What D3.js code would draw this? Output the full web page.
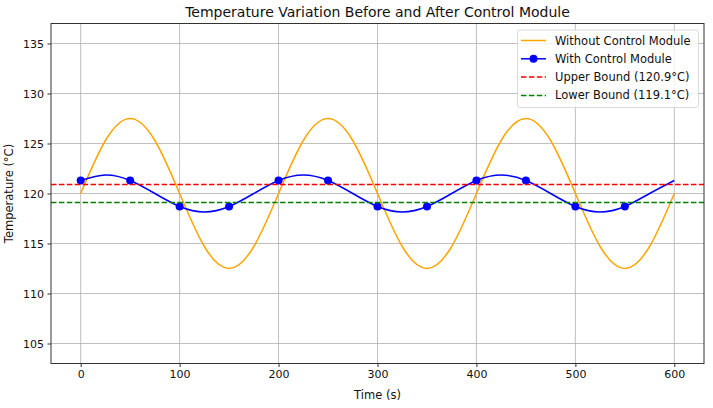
<!DOCTYPE html>
<html>
<head>
<meta charset="utf-8">
<script src="https://cdn.jsdelivr.net/npm/d3@7"></script>
<style>
  html, body { margin: 0; padding: 0; background: #fff; }
  svg { display: block; font-family: 'DejaVu Sans', sans-serif; }
</style>
</head>
<body>
<div id="chart"></div>
<script>
// Sample times (s) and readings
const TIMES      = [0, 25, 50, 75, 100, 125, 150, 175, 200, 225, 250, 275, 300, 325, 350, 375, 400, 425, 450, 475, 500, 525, 550, 575, 600];
const WITHOUT    = [120, 125.3, 127.5, 125.3, 120, 114.7, 112.5, 114.7, 120, 125.3, 127.5, 125.3, 120, 114.7, 112.5, 114.7, 120, 125.3, 127.5, 125.3, 120, 114.7, 112.5, 114.7, 120];
const WITH_CTRL  = [121.3, 121.85, 121.3, 120, 118.7, 118.15, 118.7, 120, 121.3, 121.85, 121.3, 120, 118.7, 118.15, 118.7, 120, 121.3, 121.85, 121.3, 120, 118.7, 118.15, 118.7, 120, 121.3];
const MARK_TIMES = [0, 50, 100, 150, 200, 250, 300, 350, 400, 450, 500, 550];
const UPPER = 120.9;
const LOWER = 119.1;
const X_TICKS = [0, 100, 200, 300, 400, 500, 600];
const Y_TICKS = [105, 110, 115, 120, 125, 130, 135];

const W = 713, H = 408;
const M = { left: 51, right: 9, top: 23.5, bottom: 44.5 };

const svg = d3.select('#chart').append('svg')
  .attr('width', W).attr('height', H);

const x = d3.scaleLinear().domain([-30, 630]).range([M.left, W - M.right]);
const y = d3.scaleLinear().domain([103, 137]).range([H - M.bottom, M.top]);

const g = svg.append('g');

// grid
g.append('g').selectAll('line').data(X_TICKS).join('line')
  .attr('x1', d => x(d)).attr('x2', d => x(d))
  .attr('y1', M.top).attr('y2', H - M.bottom)
  .attr('stroke', '#b0b0b0').attr('stroke-width', 0.8);
g.append('g').selectAll('line').data(Y_TICKS).join('line')
  .attr('x1', M.left).attr('x2', W - M.right)
  .attr('y1', d => y(d)).attr('y2', d => y(d))
  .attr('stroke', '#b0b0b0').attr('stroke-width', 0.8);

svg.append('clipPath').attr('id', 'plotclip').append('rect')
  .attr('x', M.left).attr('y', M.top)
  .attr('width', W - M.left - M.right).attr('height', H - M.top - M.bottom);

const plot = svg.append('g').attr('clip-path', 'url(#plotclip)');

const line = d3.line().x(d => x(d[0])).y(d => y(d[1])).curve(d3.curveNatural);

plot.append('path')
  .datum(TIMES.map((t, i) => [t, WITHOUT[i]]))
  .attr('d', line).attr('fill', 'none')
  .attr('stroke', '#FFA500').attr('stroke-width', 1.5);

plot.append('path')
  .datum(TIMES.map((t, i) => [t, WITH_CTRL[i]]))
  .attr('d', line).attr('fill', 'none')
  .attr('stroke', '#0000FF').attr('stroke-width', 1.5);

plot.append('g').selectAll('circle')
  .data(MARK_TIMES.map(t => [t, WITH_CTRL[TIMES.indexOf(t)]]))
  .join('circle')
  .attr('cx', d => x(d[0])).attr('cy', d => y(d[1])).attr('r', 4)
  .attr('fill', '#0000FF');

[[UPPER, '#FF0000'], [LOWER, '#008000']].forEach(([v, c]) => {
  plot.append('line')
    .attr('x1', M.left).attr('x2', W - M.right)
    .attr('y1', y(v)).attr('y2', y(v))
    .attr('stroke', c).attr('stroke-width', 1.5)
    .attr('stroke-dasharray', '5.5,2.4');
});

// axes
const xAxis = d3.axisBottom(x).tickValues(X_TICKS).tickSize(3.5).tickPadding(3.5);
const yAxis = d3.axisLeft(y).tickValues(Y_TICKS).tickSize(3.5).tickPadding(3.5);

const gx = svg.append('g').attr('transform', `translate(0,${H - M.bottom})`).call(xAxis);
const gy = svg.append('g').attr('transform', `translate(${M.left},0)`).call(yAxis);
[gx, gy].forEach(a => {
  a.select('.domain').remove();
  a.selectAll('.tick line').attr('stroke', '#333');
  a.selectAll('.tick text').attr('font-size', 11).attr('fill', '#111')
    .attr('font-family', "'DejaVu Sans', sans-serif");
});

// frame
svg.append('rect')
  .attr('x', M.left).attr('y', M.top)
  .attr('width', W - M.left - M.right).attr('height', H - M.top - M.bottom)
  .attr('fill', 'none').attr('stroke', '#333').attr('stroke-width', 1);

// title + labels
svg.append('text').attr('x', (M.left + W - M.right) / 2).attr('y', 16.5)
  .attr('text-anchor', 'middle').attr('font-size', 14).attr('fill', '#111')
  .text('Temperature Variation Before and After Control Module');
svg.append('text').attr('x', (M.left + W - M.right) / 2).attr('y', 399)
  .attr('text-anchor', 'middle').attr('font-size', 11.5).attr('fill', '#111')
  .text('Time (s)');
svg.append('text')
  .attr('transform', `translate(13,${(M.top + H - M.bottom) / 2}) rotate(-90)`)
  .attr('text-anchor', 'middle').attr('font-size', 11.5).attr('fill', '#111')
  .text('Temperature (°C)');

// legend
const LEGEND = [
  { label: 'Without Control Module', color: '#FFA500', dash: null, marker: false },
  { label: 'With Control Module', color: '#0000FF', dash: null, marker: true },
  { label: `Upper Bound (${UPPER}°C)`, color: '#FF0000', dash: '5.5,2.4', marker: false },
  { label: `Lower Bound (${LOWER}°C)`, color: '#008000', dash: '5.5,2.4', marker: false }
];
const lg = svg.append('g').attr('transform', 'translate(517.5,30)');
lg.append('rect').attr('width', 181).attr('height', 77.5).attr('rx', 2.5)
  .attr('fill', 'rgba(255,255,255,0.8)').attr('stroke', '#d0d0d0').attr('stroke-width', 0.8);
const row = lg.selectAll('g.row').data(LEGEND).join('g')
  .attr('transform', (d, i) => `translate(0,${10.5 + i * 18.3})`);
row.append('line').attr('x1', 3.5).attr('x2', 28.5)
  .attr('stroke', d => d.color).attr('stroke-width', 1.5)
  .attr('stroke-dasharray', d => d.dash);
row.filter(d => d.marker).append('circle').attr('cx', 16).attr('r', 4).attr('fill', d => d.color);
row.append('text').attr('x', 37.5).attr('dy', '0.35em').attr('font-size', 11.5).attr('fill', '#111')
  .text(d => d.label);
</script>
</body>
</html>
